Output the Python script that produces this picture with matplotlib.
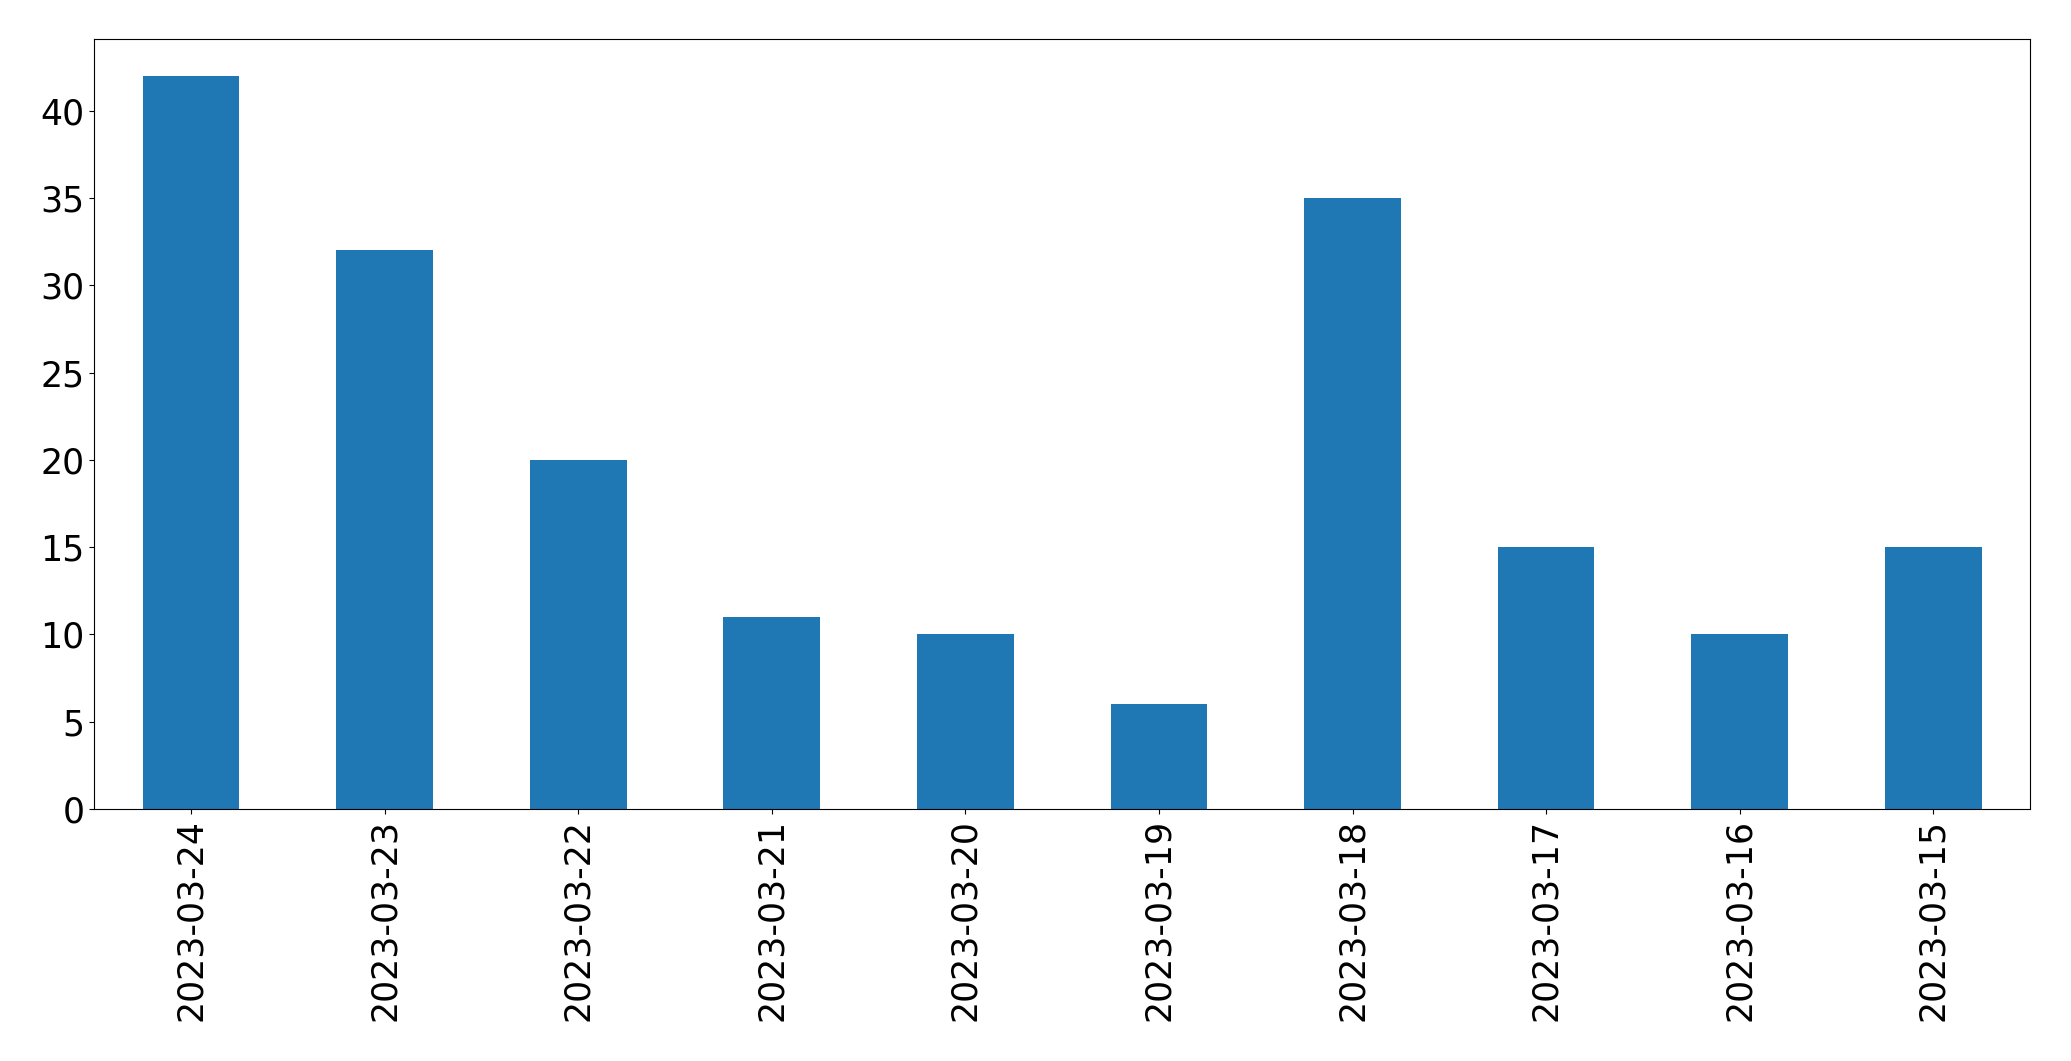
import matplotlib
matplotlib.use("Agg")
import matplotlib.pyplot as plt

dates = ["2023-03-24", "2023-03-23", "2023-03-22", "2023-03-21", "2023-03-20",
         "2023-03-19", "2023-03-18", "2023-03-17", "2023-03-16", "2023-03-15"]
counts = [42, 32, 20, 11, 10, 6, 35, 15, 10, 15]

fig = plt.figure(figsize=(20.71, 10.61), dpi=100)
ax = fig.add_axes([94.3 / 2071, 1 - 809 / 1061, (2030 - 94.3) / 2071, (809 - 39.3) / 1061])

x = range(len(dates))
ax.bar(x, counts, width=0.5, color="#1f77b4")
ax.set_xlim(-0.5, len(dates) - 0.5)
ax.set_xticks(list(x))
ax.set_xticklabels(dates, rotation=90)
ax.tick_params(labelsize=25)

fig.savefig("out.png", dpi=100)
